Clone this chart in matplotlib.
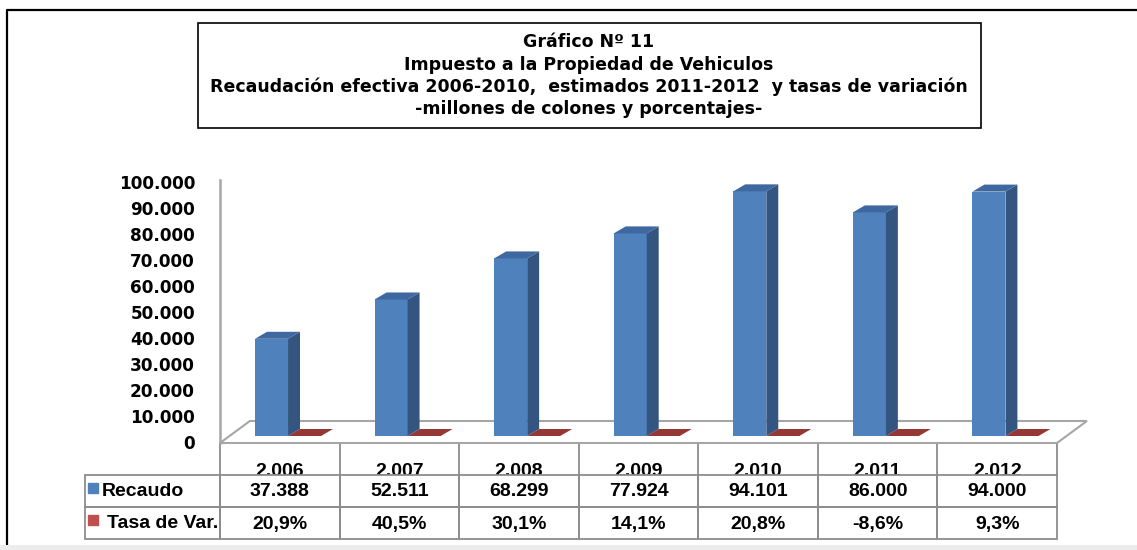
import matplotlib.pyplot as plt
from matplotlib.patches import Polygon, Rectangle
from matplotlib.transforms import offset_copy

plt.rcParams['font.family'] = ['Liberation Sans', 'DejaVu Sans']

# datos del grafico
years = ['2.006', '2.007', '2.008', '2.009', '2.010', '2.011', '2.012']
recaudo = [37388, 52511, 68299, 77924, 94101, 86000, 94000]
tasa = [20.9, 40.5, 30.1, 14.1, 20.8, -8.6, 9.3]
y_ticks = [0, 10000, 20000, 30000, 40000, 50000, 60000, 70000, 80000, 90000, 100000]
title_lines = ['Gráfico Nº 11',
               'Impuesto a la Propiedad de Vehiculos',
               'Recaudación efectiva 2006-2010,  estimados 2011-2012  y tasas de variación',
               '-millones de colones y porcentajes-']
series_names = ['Recaudo', 'Tasa de Var.']

W, H = 1137, 550
fig = plt.figure(figsize=(W / 100, H / 100), dpi=100)

# capa de fondo en pixeles (marco, titulo, tabla)
bg = fig.add_axes([0, 0, 1, 1], zorder=0)
bg.set_xlim(0, W)
bg.set_ylim(H, 0)
bg.axis('off')

# marco exterior
bg.plot([7, 7, W], [545, 10, 10], color='black', lw=1.6, solid_capstyle='butt')
bg.add_patch(Rectangle((0, 545), W, 5, color='#ececec', lw=0))

# caja del titulo
bg.add_patch(Rectangle((198, 23), 783, 105, fill=False, ec='black', lw=1.2))
for k, line in enumerate(title_lines):
    bg.text(589, 42 + k * 22.5, line, ha='center', va='center',
            fontsize=12.5, fontweight='bold', family='DejaVu Sans')

# ejes principales (columnas 3D simuladas)
x_left, x_right = 220, 1057
y_floor_px, y_top_px = 443, 176
ax = fig.add_axes([x_left / W, (H - y_floor_px) / H,
                   (x_right - x_left) / W, (y_floor_px - y_top_px) / H], zorder=1)
n = len(years)
ax.set_xlim(-0.5, n - 0.5)
y0 = -2692
ax.set_ylim(y0, 100000)
ax.axis('off')

blue_front, blue_side, blue_top = '#4f81bd', '#34557f', '#3f67a0'
red_top = '#953735'
grey = '#a6a6a6'

# piso
dxf, dyf = 0.25, 8461
floor = Polygon([(-0.5, y0), (n - 0.5, y0), (n - 0.5 + dxf, y0 + dyf),
                 (-0.5 + dxf, y0 + dyf)], closed=True, fill=False,
                ec=grey, lw=1.5, clip_on=False)
ax.add_patch(floor)
ax.plot([-0.5, -0.5], [y0, 98500], color=grey, lw=1.8, clip_on=False)

# ticks eje y
lab_tr = offset_copy(ax.transData, fig=fig, x=-25, y=-8, units='dots')
for v in y_ticks:
    ax.text(-0.5, v, f'{v:,}'.replace(',', '.'), transform=lab_tr,
            ha='right', va='center', fontsize=12.2, fontweight='bold',
            family='DejaVu Sans')

bw = 0.276
off = -0.207
dx, dy = 0.1, 2692
for i, v in enumerate(recaudo):
    x0 = i + off
    x1 = x0 + bw
    ax.bar(x0, v, width=bw, align='edge', color=blue_front, lw=0, zorder=3)
    ax.add_patch(Polygon([(x1, 0), (x1 + dx, dy), (x1 + dx, v + dy), (x1, v)],
                         closed=True, color=blue_side, lw=0, zorder=3))
    ax.add_patch(Polygon([(x0, v), (x0 + dx, v + dy), (x1 + dx, v + dy), (x1, v)],
                         closed=True, color=blue_top, lw=0, zorder=3))
    # serie tasa: casi plana en esta escala
    t = tasa[i] / 100
    r0 = x1
    r1 = r0 + bw
    ax.bar(r0, t, width=bw, align='edge', color=red_top, lw=0, zorder=2)
    ax.add_patch(Polygon([(r0, t), (r0 + dx, t + dy), (r1 + dx, t + dy), (r1, t)],
                         closed=True, color=red_top, lw=0, zorder=2))

# tabla de datos
cw = (x_right - x_left) / n
tcol = '#8c8c8c'
for i, yr in enumerate(years):
    cx = x_left + (i + 0.5) * cw
    bg.text(cx, 471, yr, ha='center', va='center', fontsize=14,
            fontweight='bold', zorder=1)
for i in range(n + 1):
    xx = x_left + i * cw
    bg.plot([xx, xx], [443, 475], color=tcol, lw=1.3, zorder=1)

rows_top = [475, 507]
row_h = 32
bg.add_patch(Rectangle((85, 475), x_right - 85, 2 * row_h, fc='white',
                       ec='none', zorder=2))
for r in range(2):
    y = rows_top[r]
    bg.add_patch(Rectangle((85, y), x_left - 85, row_h, fill=False,
                           ec=tcol, lw=1.3, zorder=3))
    for i in range(n):
        bg.add_patch(Rectangle((x_left + i * cw, y), cw, row_h, fill=False,
                               ec=tcol, lw=1.3, zorder=3))

for i in range(n):
    cx = x_left + (i + 0.5) * cw
    bg.text(cx, 492, f'{recaudo[i]:,}'.replace(',', '.'), ha='center',
            va='center', fontsize=14, fontweight='bold', zorder=4)
    bg.text(cx, 524, f'{tasa[i]:.1f}%'.replace('.', ','), ha='center',
            va='center', fontsize=14, fontweight='bold', zorder=4)

# leyenda en la tabla
bg.add_patch(Rectangle((88, 483), 10, 10, color='#4f81bd', zorder=4))
bg.text(102, 492, series_names[0], ha='left', va='center', fontsize=14,
        fontweight='bold', zorder=4)
bg.add_patch(Rectangle((88, 515), 10, 10, color='#c0504d', zorder=4))
bg.text(107, 523, series_names[1], ha='left', va='center', fontsize=14,
        fontweight='bold', zorder=4)

fig.savefig('out.png', dpi=100)
